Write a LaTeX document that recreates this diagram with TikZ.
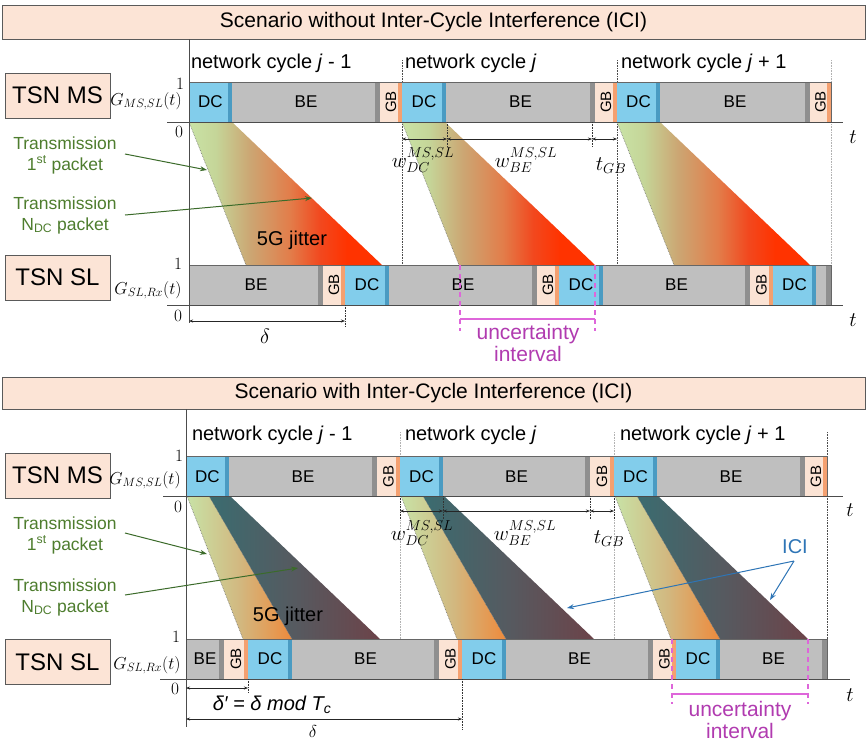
\documentclass[tikz,border=0pt]{standalone}
\usepackage{fontspec}
\setmainfont{Liberation Sans}
\usepackage{graphicx}
\usetikzlibrary{arrows.meta}
\definecolor{peach}{HTML}{FCE4D6}
\definecolor{bordc}{HTML}{5A5A5A}
\definecolor{dcc}{HTML}{82CDEB}
\definecolor{dcd}{HTML}{4A9BC2}
\definecolor{bec}{HTML}{BFBFBF}
\definecolor{bed}{HTML}{8F8F8F}
\definecolor{gbc}{HTML}{FBE3D4}
\definecolor{gbd}{HTML}{F4A070}
\definecolor{tgreen}{HTML}{4E7D2E}
\definecolor{agreen}{HTML}{3B6B2A}
\definecolor{iciblue}{HTML}{2E75B6}
\definecolor{umag}{HTML}{DE66DA}
\definecolor{utxt}{HTML}{B13BB0}
\definecolor{jg}{HTML}{C9E3A6}
\definecolor{jgb}{HTML}{C5D598}
\definecolor{jtan}{HTML}{CCA572}
\definecolor{jor}{HTML}{E27E4B}
\definecolor{jro}{HTML}{F2481E}
\definecolor{jred}{HTML}{FF3300}
\definecolor{jla}{HTML}{C8E2A6}
\definecolor{jlb}{HTML}{D2B880}
\definecolor{jlc}{HTML}{EE8A3C}
\definecolor{jda}{HTML}{3A6C70}
\definecolor{jdb}{HTML}{565A60}
\definecolor{jdc}{HTML}{6C4349}
\pgfdeclarehorizontalshading{jitA}{100bp}{color(0bp)=(jg); color(25bp)=(jg); color(32bp)=(jgb); color(41bp)=(jtan); color(51bp)=(jor); color(59bp)=(jro); color(66bp)=(jred); color(100bp)=(jred)}
\pgfdeclarehorizontalshading{jitB}{100bp}{color(0bp)=(jla); color(25bp)=(jla); color(50bp)=(jlb); color(75bp)=(jlc); color(100bp)=(jlc)}
\pgfdeclarehorizontalshading{jitC}{100bp}{color(0bp)=(jda); color(25bp)=(jda); color(50bp)=(jdb); color(75bp)=(jdc); color(100bp)=(jdc)}
% segment: name, style, x1, x2, ycenter, label
\newcommand\sg[6]{\node[#2,minimum width={(#4-#3)*1pt}] (#1) at ({(#3+#4)/2},#5) {#6};}
% trapezoid (no ICI): c, ytop, ybot
\newcommand\trapA[3]{%
  \shade[shading=jitA] (#1,#2) -- ({#1+43},#2) -- ({#1+193},#3) -- ({#1+57},#3) -- cycle;
  \draw[edgeline] (#1,#2) -- ({#1+57},#3);}
% trapezoid with ICI: c, ytop, ybot
\newcommand\trapB[3]{%
  \shade[shading=jitB] ({#1+1},#2) -- ({#1+23},#2) -- ({#1+106},#3) -- ({#1+57},#3) -- cycle;
  \shade[shading=jitC] ({#1+23},#2) -- ({#1+44},#2) -- ({#1+194},#3) -- ({#1+106},#3) -- cycle;
  \draw[edgeline] ({#1+1},#2) -- ({#1+57},#3);
  \draw[edgeline] ({#1+23},#2) -- ({#1+106},#3);}
\newcommand\GB{\rotatebox{90}{GB}}
\begin{document}
\begin{tikzpicture}[x=1pt,y=-1pt,
 every node/.style={inner sep=0pt,outer sep=0pt},
 seg/.style={minimum height=40pt,font=\fontsize{17}{20}\selectfont},
 dcseg/.style={seg,fill=dcc,path picture={\fill[dcd] ([xshift=-4pt]path picture bounding box.north east) rectangle (path picture bounding box.south east);}},
 beseg/.style={seg,fill=bec,path picture={\fill[bed] ([xshift=-5pt]path picture bounding box.north east) rectangle (path picture bounding box.south east);}},
 gbseg/.style={seg,fill=gbc,font=\fontsize{15}{18}\selectfont,path picture={\fill[gbd] ([xshift=-4pt]path picture bounding box.north east) rectangle (path picture bounding box.south east);}},
 barline/.style={draw=black!60,line width=0.6pt},
 banner/.style={draw=bordc,line width=0.8pt,fill=peach,minimum width=863pt,font=\fontsize{21}{25}\selectfont},
 tsn/.style={draw=bordc,line width=0.8pt,fill=peach,minimum width=105pt,minimum height=45pt,font=\fontsize{24}{28}\selectfont},
 cyc/.style={anchor=west,font=\fontsize{20}{24}\selectfont},
 num/.style={font=\fontsize{18}{20}\selectfont},
 glab/.style={font=\fontsize{17}{19}\selectfont},
 wlab/.style={font=\fontsize{20}{22}\selectfont},
 tlab/.style={font=\fontsize{21}{24}\selectfont},
 axis/.style={draw=black!70,line width=0.8pt},
 cycline/.style={densely dotted,line width=0.6pt,draw=black!70},
 faint/.style={densely dotted,line width=0.6pt,draw=black!30},
 dotv/.style={densely dotted,line width=0.6pt,draw=black!80},
 dim/.style={{Stealth[length=4pt,width=3pt]}-{Stealth[length=4pt,width=3pt]},line width=0.5pt,draw=black!85},
 gtext/.style={text=tgreen,align=center,font=\fontsize{17.5}{21}\selectfont},
 garrow/.style={-{Stealth[length=7pt,width=5pt]},line width=1pt,draw=agreen},
 barrow/.style={-{Stealth[length=7pt,width=5pt]},line width=1pt,draw=iciblue},
 jit/.style={font=\fontsize{20}{24}\selectfont},
 udash/.style={draw=umag,dash pattern=on 5pt off 4pt,line width=1.3pt},
 uline/.style={draw=umag,line width=1.3pt},
 utext/.style={text=utxt,align=center,font=\fontsize{21}{22}\selectfont},
 edgeline/.style={densely dotted,line width=0.6pt,draw=black!55}
]
\useasboundingbox (0,0) rectangle (867,742);
\fill[white] (0,0) rectangle (867,742);

%% ================= TOP SECTION =================
\node[banner,minimum height=34pt] (ban1) at (433.5,22) {Scenario without Inter-Cycle Interference (ICI)};
\node[tsn] (tsnms1) at (57.5,95.5) {TSN MS};
\node[tsn] (tsnsl1) at (57.5,277.5) {TSN SL};

% cycle boundaries
\draw[cycline] (402,60) -- (402,265);
\draw[cycline] (617,60) -- (617,265);
\draw[faint] (831,60) -- (831,265);

% transmissions
\trapA{189}{122}{265}
\trapA{402}{122}{265}
\trapA{617}{122}{265}

% MS bar
\sg{ma1}{dcseg}{189}{232}{102}{DC}
\sg{ma2}{beseg}{232}{380}{102}{BE}
\sg{ma3}{gbseg}{380}{402}{102}{\GB}
\sg{ma4}{dcseg}{402}{446}{102}{DC}
\sg{ma5}{beseg}{446}{595}{102}{BE}
\sg{ma6}{gbseg}{595}{617}{102}{\GB}
\sg{ma7}{dcseg}{617}{660}{102}{DC}
\sg{ma8}{beseg}{660}{810}{102}{BE}
\sg{ma9}{gbseg}{810}{831}{102}{\GB}
\draw[barline] (189,82) rectangle (831,122);

% SL bar
\sg{sa1}{beseg}{189}{323}{285}{BE}
\sg{sa2}{gbseg}{323}{345}{285}{\GB}
\sg{sa3}{dcseg}{345}{389}{285}{DC}
\sg{sa4}{beseg}{389}{537}{285}{BE}
\sg{sa5}{gbseg}{537}{559}{285}{\GB}
\sg{sa6}{dcseg}{559}{603}{285}{DC}
\sg{sa7}{beseg}{603}{750}{285}{BE}
\sg{sa8}{gbseg}{750}{773}{285}{\GB}
\sg{sa9}{dcseg}{773}{816}{285}{DC}
\sg{sa10}{beseg}{816}{831}{285}{}
\draw[barline] (189,265) rectangle (831,305);

% axes
\draw[axis] (189,39) -- (189,323);
\draw[axis] (167,122) -- (843,122);
\draw[axis] (167,305) -- (843,305);
\node[num] (one1) at (180,84) {$1$};
\node[num] (zero1) at (179,132) {$0$};
\node[num] (one2) at (178,264) {$1$};
\node[num] (zero2) at (178,316) {$0$};
\node[glab] (g1) at (146,101) {$G_{MS,SL}(t)$};
\node[glab] (g2) at (148,290) {$G_{SL,Rx}(t)$};
\node[tlab] (t1) at (853,137) {$t$};
\node[tlab] (t2) at (853,320) {$t$};

% cycle labels
\node[cyc] (c1) at (191,63.5) {network cycle \textit{j} - 1};
\node[cyc] (c2) at (405,63.5) {network cycle \textit{j}};
\node[cyc] (c3) at (621,63.5) {network cycle \textit{j} + 1};

% dimensions
\coordinate (d1a) at (402,139);
\coordinate (d1b) at (447,139);
\coordinate (d1c) at (592,139);
\coordinate (d1d) at (617,139);
\draw[dotv] (447,122) -- (447,147);
\draw[dotv] (592,122) -- (592,147);
\draw[dim] (d1a) -- (d1b);
\draw[dim] (d1b) -- (d1c);
\draw[dim] (d1c) -- (d1d);
\node[wlab] (wdc1) at (423,160) {$w_{DC}^{MS,SL}$};
\node[wlab] (wbe1) at (526,160) {$w_{BE}^{MS,SL}$};
\node[wlab] (tgb1) at (611,166) {$t_{GB}$};

\coordinate (del1a) at (189,321);
\coordinate (del1b) at (345,321);
\draw[dotv] (345,305) -- (345,327);
\draw[dim] (del1a) -- (del1b);
\node[tlab] (del1) at (265,336) {$\delta$};

% annotations
\node[gtext] (tr1) at (65,155) {Transmission\\1\textsuperscript{st} packet};
\node[gtext] (trn1) at (65,215) {Transmission\\N\textsubscript{DC} packet};
\coordinate (a1s) at (125,154);
\coordinate (a1e) at (207,170);
\coordinate (a2s) at (125,215);
\coordinate (a2e) at (312,198);
\draw[garrow] (a1s) -- (a1e);
\draw[garrow] (a2s) -- (a2e);
\node[jit] (jit1) at (292,240) {5G jitter};

% uncertainty
\coordinate (u1a) at (460,319);
\coordinate (u1b) at (595,319);
\draw[udash] (460,265) -- (460,331);
\draw[udash] (595,265) -- (595,331);
\draw[uline] (u1a) -- (u1b);
\node[utext] (unc1) at (528,343) {uncertainty\\interval};

%% ================= BOTTOM SECTION =================
\node[banner,minimum height=32pt] (ban2) at (433.5,393) {Scenario with Inter-Cycle Interference (ICI)};
\node[tsn] (tsnms2) at (57.5,475.5) {TSN MS};
\node[tsn] (tsnsl2) at (57.5,662) {TSN SL};

\draw[faint] (400,432) -- (400,639);
\draw[faint] (614,432) -- (614,639);
\draw[cycline] (827,432) -- (827,679);

\trapB{186}{496}{639}
\trapB{400}{496}{639}
\trapB{614}{496}{639}

% MS bar
\sg{mb1}{dcseg}{186}{229}{476.5}{DC}
\sg{mb2}{beseg}{229}{377}{476.5}{BE}
\sg{mb3}{gbseg}{377}{400}{476.5}{\GB}
\sg{mb4}{dcseg}{400}{443}{476.5}{DC}
\sg{mb5}{beseg}{443}{590}{476.5}{BE}
\sg{mb6}{gbseg}{590}{614}{476.5}{\GB}
\sg{mb7}{dcseg}{614}{657}{476.5}{DC}
\sg{mb8}{beseg}{657}{805}{476.5}{BE}
\sg{mb9}{gbseg}{805}{827}{476.5}{\GB}
\draw[barline] (186,456.5) rectangle (827,496.5);

% SL bar
\sg{sb1}{beseg}{186}{224}{659}{BE}
\sg{sb2}{gbseg}{224}{248}{659}{\GB}
\sg{sb3}{dcseg}{248}{292}{659}{DC}
\sg{sb4}{beseg}{292}{439}{659}{BE}
\sg{sb5}{gbseg}{439}{462}{659}{\GB}
\sg{sb6}{dcseg}{462}{506}{659}{DC}
\sg{sb7}{beseg}{506}{653}{659}{BE}
\sg{sb8}{gbseg}{653}{676}{659}{\GB}
\sg{sb9}{dcseg}{676}{720}{659}{DC}
\sg{sb10}{beseg}{720}{827}{659}{BE}
\draw[barline] (186,639) rectangle (827,679);

% axes
\draw[axis] (186,409) -- (186,727);
\draw[axis] (163,496) -- (843,496);
\draw[axis] (160,679) -- (850,679);
\node[num] (one3) at (179,456) {$1$};
\node[num] (zero3) at (178,507) {$0$};
\node[num] (one4) at (176,637) {$1$};
\node[num] (zero4) at (175,689) {$0$};
\node[glab] (g3) at (145,480) {$G_{MS,SL}(t)$};
\node[glab] (g4) at (147,665) {$G_{SL,Rx}(t)$};
\node[tlab] (t3) at (850,510) {$t$};
\node[tlab] (t4) at (850,695) {$t$};

\node[cyc] (c4) at (192,435) {network cycle \textit{j} - 1};
\node[cyc] (c5) at (405,435) {network cycle \textit{j}};
\node[cyc] (c6) at (620,435) {network cycle \textit{j} + 1};

% dimensions
\coordinate (d2a) at (400,511);
\coordinate (d2b) at (443,511);
\coordinate (d2c) at (590,511);
\coordinate (d2d) at (614,511);
\draw[dotv] (400,496) -- (400,519);
\draw[dotv] (443,496) -- (443,519);
\draw[dotv] (590,496) -- (590,519);
\draw[dotv] (614,496) -- (614,519);
\draw[dim] (d2a) -- (d2b);
\draw[dim] (d2b) -- (d2c);
\draw[dim] (d2c) -- (d2d);
\node[wlab] (wdc2) at (422,533) {$w_{DC}^{MS,SL}$};
\node[wlab] (wbe2) at (525,533) {$w_{BE}^{MS,SL}$};
\node[wlab] (tgb2) at (609,539) {$t_{GB}$};

\coordinate (dp2a) at (186,688);
\coordinate (dp2b) at (248,688);
\draw[dotv] (248,679) -- (248,693);
\draw[dim] (dp2a) -- (dp2b);
\node[font=\fontsize{20}{24}\selectfont\itshape] (delp) at (272,705) {δ′ = δ mod T\textsubscript{c}};
\coordinate (del2a) at (186,719);
\coordinate (del2b) at (462,719);
\draw[dotv] (462,679) -- (462,730);
\draw[dim] (del2a) -- (del2b);
\node[font=\fontsize{19}{22}\selectfont] (del2) at (313,731) {$\delta$};

% annotations
\node[gtext] (tr2) at (65,535) {Transmission\\1\textsuperscript{st} packet};
\node[gtext] (trn2) at (65,597) {Transmission\\N\textsubscript{DC} packet};
\coordinate (b1s) at (125,533);
\coordinate (b1e) at (207,554);
\coordinate (b2s) at (125,595);
\coordinate (b2e) at (298,568);
\draw[garrow] (b1s) -- (b1e);
\draw[garrow] (b2s) -- (b2e);
\node[jit] (jit2) at (288,616) {5G jitter};

\node[font=\fontsize{20}{24}\selectfont,text=iciblue] (ici) at (795,547) {ICI};
\coordinate (icis) at (794,561);
\coordinate (icie1) at (567,608);
\coordinate (icie2) at (770,600);
\draw[barrow] (icis) -- (icie1);
\draw[barrow] (icis) -- (icie2);

% uncertainty
\coordinate (u2a) at (672,694);
\coordinate (u2b) at (808,694);
\draw[udash] (672,639) -- (672,704);
\draw[udash] (808,639) -- (808,704);
\draw[uline] (u2a) -- (u2b);
\node[utext] (unc2) at (740,720) {uncertainty\\interval};
\end{tikzpicture}
\end{document}
